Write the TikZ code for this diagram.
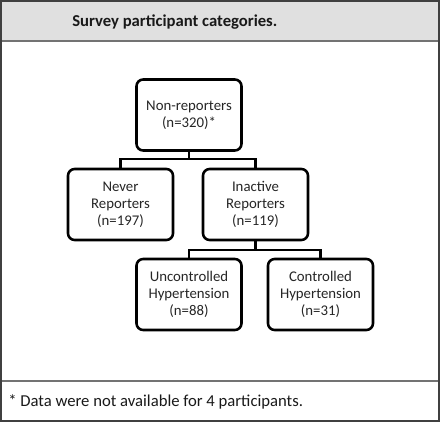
\documentclass[tikz,border=0pt]{standalone}
\usepackage{fontspec}
\setmainfont{Carlito}
\begin{document}
\begin{tikzpicture}[x=0.75pt,y=-0.75pt,
  catbox/.style={draw=black,line width=1.9pt,rounded corners=5pt,fill=white,
    minimum width=78.75pt,minimum height=53.25pt,align=center,inner sep=2pt,
    font=\fontsize{11.1}{12.6}\selectfont,text=black!85},
  link/.style={draw=black,line width=1.7pt}]
\useasboundingbox (0,0) rectangle (440,422);
\fill[black!12] (0,0) rectangle (440,41);
\draw[black!55,line width=1.5pt] (0,41) -- (440,41);
\draw[black!55,line width=1.5pt] (0,381) -- (440,381);
\draw[black!75,line width=1.8pt] (0.9,0.9) rectangle (439.1,421.1);
\node[anchor=west,inner sep=0pt,font=\bfseries\fontsize{12.5}{14}\selectfont,text=black!90] (title) at (72,22) {Survey participant categories.};
\node[anchor=west,inner sep=0pt,font=\fontsize{12.5}{14}\selectfont,text=black!90] (note) at (8,402) {* Data were not available for 4 participants.};
\node[catbox] (non) at (189,115) {Non-reporters\\(n=320)*};
\node[catbox] (never) at (120.5,204.5) {Never\\Reporters\\(n=197)};
\node[catbox] (inact) at (255.5,204.5) {Inactive\\Reporters\\(n=119)};
\node[catbox] (unc) at (189,294.5) {Uncontrolled\\Hypertension\\(n=88)};
\node[catbox] (con) at (320.5,294.5) {Controlled\\Hypertension\\(n=31)};
\coordinate (b1) at (189,159);
\coordinate (b2) at (255.5,250);
\draw[link] (non.south) -- (b1);
\draw[link] (never.north) |- (b1) -| (inact.north);
\draw[link] (inact.south) -- (b2);
\draw[link] (unc.north) |- (b2) -| (con.north);
\end{tikzpicture}
\end{document}
